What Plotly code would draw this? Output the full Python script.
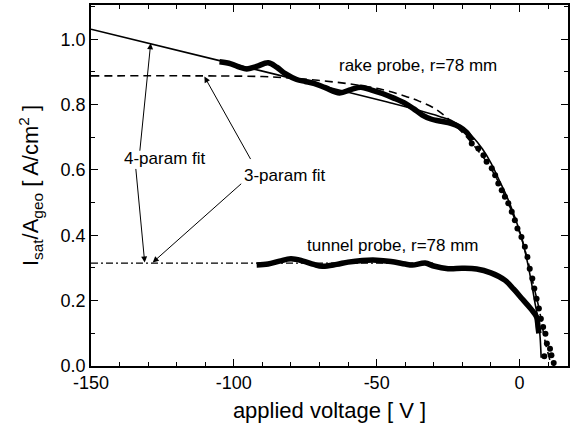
import plotly.graph_objects as go

# ---- rake probe, r = 78 mm: measured saturation current density ----
rake_dense_v = [-105, -101, -98, -95.5, -92, -88, -85, -82, -78, -75, -72, -68, -63,
                -59, -55.5, -52, -48, -44, -40, -37, -34, -31, -28, -24, -21, -18.5, -16.5]
rake_dense_j = [0.931, 0.925, 0.915, 0.909, 0.917, 0.928, 0.915, 0.895, 0.877, 0.871, 0.865,
                0.852, 0.836, 0.846, 0.853, 0.845, 0.834, 0.820, 0.804, 0.787, 0.768, 0.756,
                0.750, 0.743, 0.732, 0.715, 0.690]

# steep part near the floating potential, where single samples are visible
rake_knee_v = [-16.7, -14.4, -12.6, -11.5, -9.7, -8.5, -7.4, -6.2, -5.1, -3.9, -2.7, -1.6,
               -0.7, 0.7, 1.9, 2.8, 3.6, 4.5, 5.2, 6.0, 6.8, 7.5, 8.3, 9.1, 9.6, 10.7,
               8.7, 11.2, 12.0]
rake_knee_j = [0.681, 0.666, 0.645, 0.625, 0.605, 0.584, 0.559, 0.538, 0.518, 0.498, 0.472,
               0.446, 0.421, 0.395, 0.365, 0.334, 0.298, 0.268, 0.237, 0.206, 0.176, 0.145,
               0.119, 0.099, 0.069, 0.053, 0.030, 0.033, 0.009]

# ---- tunnel probe, r = 78 mm ----
tunnel_v = [-92, -88, -84, -80, -76, -72, -69, -64, -60, -55, -50, -45, -40, -37.5, -33,
            -30, -25, -20, -15, -10, -5, -2, 1, 4, 6, 6.5, 6.8]
tunnel_j = [0.309, 0.312, 0.321, 0.328, 0.322, 0.311, 0.305, 0.311, 0.318, 0.323, 0.324,
            0.320, 0.312, 0.309, 0.315, 0.306, 0.298, 0.299, 0.297, 0.285, 0.262, 0.235,
            0.205, 0.175, 0.150, 0.120, 0.100]

# ---- fitted characteristics ----
fit4_rake_v = [-150, -100, -60, -45, -35, -28, -24, -20, -16, -13, -10, -7, -4, -1, 1,
               2.5, 4, 5.5, 6.8, 7.3, 7.6]
fit4_rake_j = [1.031, 0.924, 0.838, 0.805, 0.782, 0.764, 0.752, 0.730, 0.698, 0.665, 0.622,
               0.567, 0.510, 0.440, 0.385, 0.330, 0.265, 0.190, 0.130, 0.080, 0.025]

fit3_rake_v = [-150, -90, -80, -70, -60, -50, -40, -35, -30, -25, -20, -15, -10, -5, 0,
               3, 5, 7, 9, 10.7]
fit3_rake_j = [0.888, 0.886, 0.881, 0.874, 0.864, 0.850, 0.826, 0.810, 0.790, 0.757, 0.715,
               0.665, 0.605, 0.520, 0.410, 0.320, 0.245, 0.170, 0.075, 0.017]

fit_tunnel_v = [-150, -30]
fit_tunnel_j = [0.315, 0.315]

x_ticks = [-150, -100, -50, 0]
x_tick_text = ["-150", "-100", "-50", "0"]
y_ticks = [0.0, 0.2, 0.4, 0.6, 0.8, 1.0]
y_tick_text = ["0.0", "0.2", "0.4", "0.6", "0.8", "1.0"]

FONT = "Liberation Sans, Arial, Helvetica, sans-serif"

fig = go.Figure()

fig.add_trace(go.Scatter(x=fit_tunnel_v, y=fit_tunnel_j, mode="lines",
                         line=dict(color="black", width=1.1, dash="7px,3px,2px,3px"),
                         showlegend=False))
fig.add_trace(go.Scatter(x=fit3_rake_v, y=fit3_rake_j, mode="lines", line_shape="spline",
                         line=dict(color="black", width=1.6, dash="8px,5px"),
                         showlegend=False))
fig.add_trace(go.Scatter(x=rake_dense_v, y=rake_dense_j, mode="lines", line_shape="spline",
                         line=dict(color="black", width=5.5), showlegend=False))
fig.add_trace(go.Scatter(x=rake_knee_v, y=rake_knee_j, mode="markers",
                         marker=dict(color="black", size=6), showlegend=False))
fig.add_trace(go.Scatter(x=tunnel_v, y=tunnel_j, mode="lines", line_shape="spline",
                         line=dict(color="black", width=5.5), showlegend=False))
fig.add_trace(go.Scatter(x=fit4_rake_v, y=fit4_rake_j, mode="lines", line_shape="spline",
                         line=dict(color="black", width=1.6), showlegend=False))

text_style = dict(family=FONT, size=17, color="black")

# curve labels
fig.add_annotation(x=-35.6, y=0.921, text="rake probe, r=78 mm", showarrow=False,
                   font=text_style, xanchor="center", yanchor="middle")
fig.add_annotation(x=-44.4, y=0.370, text="tunnel probe, r=78 mm", showarrow=False,
                   font=text_style, xanchor="center", yanchor="middle")
fig.add_annotation(x=-139.2, y=0.636, text="4-param fit", showarrow=False,
                   font=text_style, xanchor="left", yanchor="middle")
fig.add_annotation(x=-97.0, y=0.584, text="3-param fit", showarrow=False,
                   font=text_style, xanchor="left", yanchor="middle")

# pointer arrows from the fit labels to the fitted curves
arrow_style = dict(showarrow=True, arrowhead=2, arrowsize=1.2, arrowwidth=1,
                   arrowcolor="black", text="", standoff=0)
fig.add_annotation(x=-129.1, y=0.988, ax=-11, ay=109, **arrow_style)
fig.add_annotation(x=-131.2, y=0.317, ax=-9, ay=-95, **arrow_style)
fig.add_annotation(x=-110.3, y=0.886, ax=47, ay=84, **arrow_style)
fig.add_annotation(x=-128.4, y=0.317, ax=90, ay=-80, **arrow_style)

axis_common = dict(showline=True, linecolor="black", linewidth=1.5, mirror="allticks",
                   ticks="inside", ticklen=7, tickwidth=1.3, tickcolor="black",
                   showgrid=False, zeroline=False,
                   tickfont=dict(family=FONT, size=18, color="black"))

fig.update_xaxes(range=[-150, 17], tickvals=x_ticks, ticktext=x_tick_text,
                 minor=dict(dtick=10, ticks="inside", ticklen=4, tickwidth=1.2,
                            tickcolor="black", showgrid=False),
                 title=dict(text="applied voltage [ V ]", standoff=10,
                            font=dict(family=FONT, size=22, color="black")),
                 **axis_common)
fig.update_yaxes(range=[0, 1.105], tickvals=y_ticks, ticktext=y_tick_text,
                 minor=dict(dtick=0.1, ticks="inside", ticklen=4, tickwidth=1.2,
                            tickcolor="black", showgrid=False),
                 title=dict(text="I<sub>sat</sub>/A<sub>geo</sub> [ A/cm<sup>2</sup> ]",
                            standoff=16, font=dict(family=FONT, size=22, color="black")),
                 **axis_common)

fig.update_layout(width=571, height=431, margin=dict(l=91, r=1, t=5, b=65),
                  plot_bgcolor="white", paper_bgcolor="white", showlegend=False)

fig.write_html("out.html")
